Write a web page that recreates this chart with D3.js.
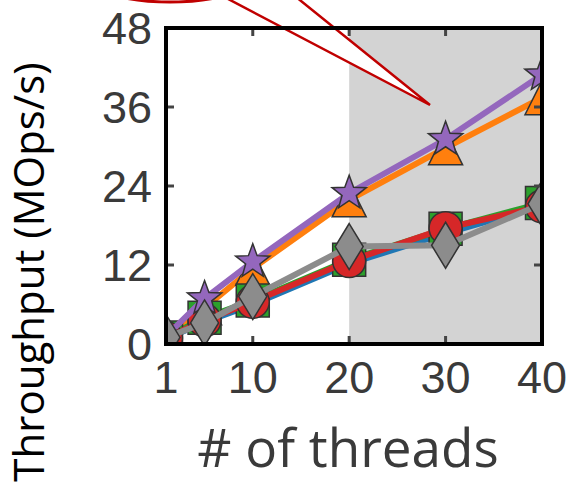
<!DOCTYPE html>
<html>
<head>
<meta charset="utf-8">
<script src="https://cdn.jsdelivr.net/npm/d3@7"></script>
<style>
  body { margin: 0; background: #fff; }
  svg { display: block; }
</style>
</head>
<body>
<svg id="chart" width="575" height="485"></svg>
<script>
// Data
const threads = [1, 5, 10, 20, 30, 40];
const blueVals = [0.8, 3.3, 6.0, 12.2, 16.8, 21.0];
const orangeVals = [1.0, 5.5, 11.5, 21.9, 29.8, 37.4];
const greenVals = [1.0, 4.0, 6.6, 12.8, 17.5, 21.4];
const redVals = [0.9, 3.6, 6.4, 12.6, 17.6, 20.9];
const purpleVals = [1.2, 6.9, 12.5, 22.9, 31.1, 40.9];
const grayVals = [1.0, 3.2, 7.2, 14.8, 15.0, 21.3];

const xTicks = [1, 10, 20, 30, 40];
const yTicks = [0, 12, 24, 36, 48];
const shadeRange = [20, 40];

// custom marker shapes
const triangle = {
    draw(ctx) {
        ctx.moveTo(0, -17); ctx.lineTo(17, 17); ctx.lineTo(-17, 17); ctx.closePath();
    }
};
const thinDiamond = {
    draw(ctx) {
        ctx.moveTo(0, -23); ctx.lineTo(14, 0); ctx.lineTo(0, 23); ctx.lineTo(-14, 0); ctx.closePath();
    }
};
const star = {
    draw(ctx) {
        const ro = 18, ri = 7.5;
        for (let i = 0; i < 10; i++) {
            const r = i % 2 ? ri : ro;
            const a = -Math.PI / 2 + i * Math.PI / 5;
            const px = r * Math.cos(a), py = r * Math.sin(a);
            i ? ctx.lineTo(px, py) : ctx.moveTo(px, py);
        }
        ctx.closePath();
    }
};

const series = [
    { values: blueVals, color: '#1f77b4', symbol: null },
    { values: orangeVals, color: '#ff7f0e', symbol: d3.symbol(triangle) },
    { values: greenVals, color: '#2ca02c', symbol: d3.symbol(d3.symbolSquare, 1089) },
    { values: redVals, color: '#d62728', symbol: d3.symbol(d3.symbolCircle, 855) },
    { values: purpleVals, color: '#9467bd', symbol: d3.symbol(star) },
    { values: grayVals, color: '#8c8c8c', symbol: d3.symbol(thinDiamond) }
];

const svg = d3.select('#chart');
const plotLeft = 166, plotRight = 542, plotTop = 28, plotBottom = 344;

const x = d3.scaleLinear().domain([1, 40]).range([plotLeft, plotRight]);
const y = d3.scaleLinear().domain([0, 48]).range([plotBottom, plotTop]);

svg.append('defs').append('clipPath').attr('id', 'plot-clip')
    .append('rect')
    .attr('x', plotLeft).attr('y', plotTop)
    .attr('width', plotRight - plotLeft).attr('height', plotBottom - plotTop);

// shaded region
svg.append('rect')
    .attr('x', x(shadeRange[0]))
    .attr('y', plotTop)
    .attr('width', x(shadeRange[1]) - x(shadeRange[0]))
    .attr('height', plotBottom - plotTop)
    .attr('fill', '#d3d3d3');

// lines and markers
const plot = svg.append('g').attr('clip-path', 'url(#plot-clip)');
const line = d3.line().x((d, i) => x(threads[i])).y(d => y(d));

series.forEach(s => {
    plot.append('path')
        .datum(s.values)
        .attr('fill', 'none')
        .attr('stroke', s.color)
        .attr('stroke-width', 6)
        .attr('d', line);
    if (s.symbol) {
        plot.selectAll(null)
            .data(s.values)
            .join('path')
            .attr('transform', (d, i) => `translate(${x(threads[i])},${y(d)})`)
            .attr('d', s.symbol)
            .attr('fill', s.color)
            .attr('stroke', '#333')
            .attr('stroke-width', 1.5);
    }
});

// callout (speech bubble tail + ellipse)
const callout = svg.append('g');
callout.append('path')
    .attr('d', 'M192,-20 L430,105 L275,-20 Z')
    .attr('fill', '#fff')
    .attr('stroke', '#c00000')
    .attr('stroke-width', 2.5)
    .attr('stroke-linejoin', 'miter');
callout.append('ellipse')
    .attr('cx', 170).attr('cy', -40)
    .attr('rx', 104).attr('ry', 42)
    .attr('fill', '#fff')
    .attr('stroke', '#c00000')
    .attr('stroke-width', 3);

// inward ticks on all four sides
const tickLen = 8;
const ticks = svg.append('g').attr('stroke', '#444').attr('stroke-width', 3);
xTicks.filter(t => t > 1 && t < 40).forEach(t => {
    ticks.append('line').attr('x1', x(t)).attr('x2', x(t)).attr('y1', plotBottom).attr('y2', plotBottom - tickLen);
    ticks.append('line').attr('x1', x(t)).attr('x2', x(t)).attr('y1', plotTop).attr('y2', plotTop + tickLen);
});
yTicks.filter(t => t > 0 && t < 48).forEach(t => {
    ticks.append('line').attr('x1', plotLeft).attr('x2', plotLeft + tickLen).attr('y1', y(t)).attr('y2', y(t));
    ticks.append('line').attr('x1', plotRight).attr('x2', plotRight - tickLen).attr('y1', y(t)).attr('y2', y(t));
});

// frame
svg.append('rect')
    .attr('x', plotLeft).attr('y', plotTop)
    .attr('width', plotRight - plotLeft).attr('height', plotBottom - plotTop)
    .attr('fill', 'none')
    .attr('stroke', '#000')
    .attr('stroke-width', 4);

// tick labels
const labelFont = '"Liberation Sans", Arial, sans-serif';
svg.append('g').selectAll('text')
    .data(yTicks)
    .join('text')
    .attr('x', 152)
    .attr('y', d => y(d))
    .attr('dy', '0.36em')
    .attr('text-anchor', 'end')
    .attr('font-family', labelFont)
    .attr('font-size', 45)
    .attr('fill', '#3a3a3a')
    .text(d => d);

svg.append('g').selectAll('text')
    .data(xTicks)
    .join('text')
    .attr('x', d => x(d))
    .attr('y', 393)
    .attr('text-anchor', 'middle')
    .attr('font-family', labelFont)
    .attr('font-size', 45)
    .attr('fill', '#3a3a3a')
    .text(d => d);

// axis titles
svg.append('text')
    .attr('x', 348)
    .attr('y', 467)
    .attr('text-anchor', 'middle')
    .attr('font-family', '"Open Sans", sans-serif')
    .attr('font-size', 53)
    .attr('fill', '#3a3a3a')
    .text('# of threads');

svg.append('text')
    .attr('transform', 'translate(44,272) rotate(-90)')
    .attr('text-anchor', 'middle')
    .attr('font-family', '"Open Sans", sans-serif')
    .attr('font-size', 42)
    .attr('fill', '#000')
    .text('Throughput (MOps/s)');
</script>
</body>
</html>
